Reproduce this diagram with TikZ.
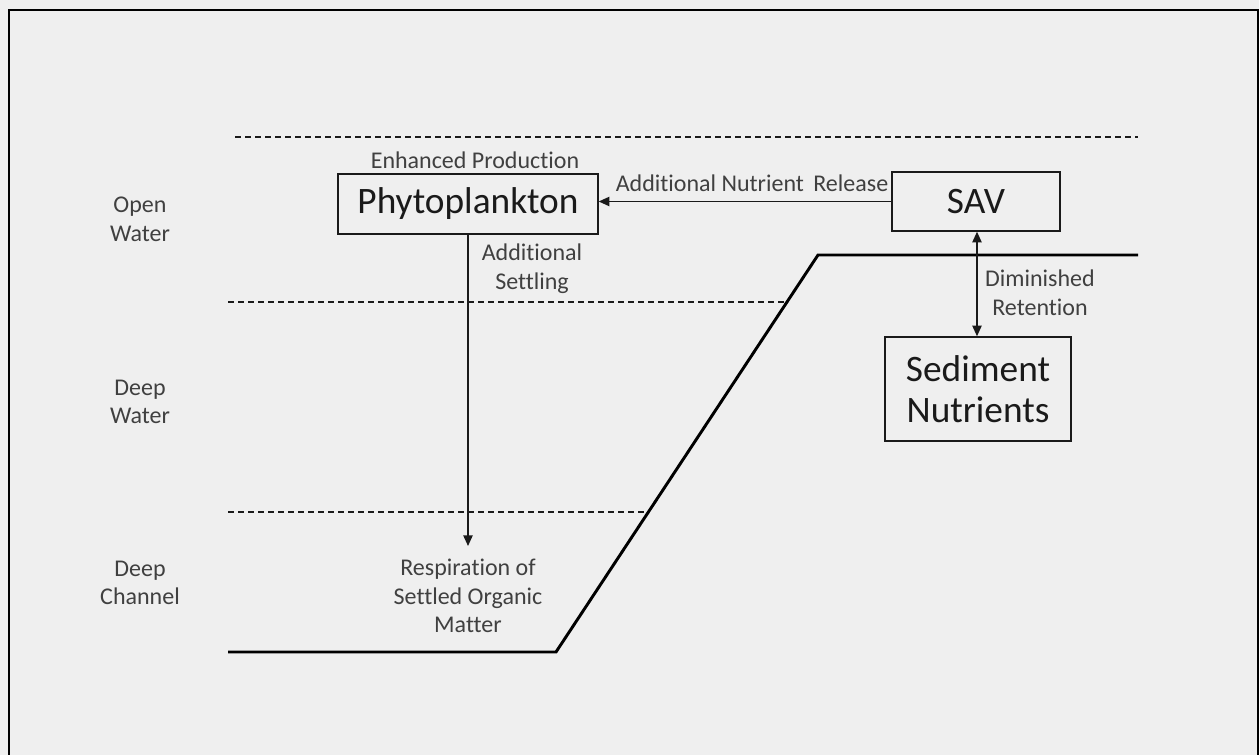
\documentclass[tikz,border=0pt]{standalone}
\usepackage{fontspec}
\setmainfont{Carlito}[Ligatures={NoCommon}]
\usetikzlibrary{arrows.meta,calc}
\definecolor{bg}{HTML}{EFEFEF}
\definecolor{lbl}{HTML}{404040}
\definecolor{txt}{HTML}{1A1A1A}
\begin{document}
\begin{tikzpicture}[x=0.75pt,y=-0.75pt,
  boxnode/.style={draw=txt,line width=1.1pt,fill=none,text=txt,font=\fontsize{28}{31}\selectfont,align=center,inner sep=0pt},
  lab/.style={text=lbl,font=\fontsize{18}{21.5}\selectfont,align=center,inner sep=0pt},
  dashline/.style={draw=txt,line width=0.8pt,dash pattern=on 4.5pt off 3pt},
  ground/.style={draw=black,line width=2.2pt},
  conn/.style={draw=txt,line width=1.1pt,-{Triangle[length=8pt,width=7pt]}},
  dconn/.style={draw=txt,line width=1.1pt,{Triangle[length=8pt,width=7pt]}-{Triangle[length=8pt,width=7pt]}}]
\useasboundingbox (0,0) rectangle (1259,755);
\fill[bg] (0,0) rectangle (1259,755);
\draw[black,line width=1.5pt] (9,755) -- (9,10) -- (1258,10) -- (1258,755);
% dashed layer lines
\draw[dashline] (235,137) -- (1138,137);
\draw[dashline] (228,302) -- (785,302);
\draw[dashline] (228,512) -- (645,512);
% ground
\draw[ground] (228,652) -- (556,652) -- (818,255) -- (1138,255);
% boxes
\node[boxnode,minimum width=195pt,minimum height=45pt] (phyto) at (468,204) {Phytoplankton};
\node[boxnode,minimum width=126pt,minimum height=44.25pt] (sav) at (976,201.5) {SAV};
\node[boxnode,minimum width=139.5pt,minimum height=78pt] (sed) at (978,389) {Sediment\\Nutrients};
% labels
\node[lab] (enh) at (475,160) {Enhanced Production};
\node[lab] (anr) at (752,183) {Additional Nutrient\, Release};
\node[lab] (set) at (532,269) {Additional\\Settling};
\node[lab] (dim) at (1040,293) {Diminished\\Retention};
\node[lab] (resp) at (468,596) {Respiration of\\Settled Organic\\Matter};
\node[lab] (ow) at (140,219) {Open\\Water};
\node[lab] (dw) at (140,402) {Deep\\Water};
\node[lab] (dc) at (140,583) {Deep\\Channel};
% connectors
\coordinate (respTop) at (468,546);
\draw[conn] (sav.west) -- (sav.west -| phyto.east);
\draw[conn] (phyto.south) -- (respTop);
\draw[dconn] (sav.south -| 977,0) -- (sed.north -| 977,0);
\end{tikzpicture}
\end{document}
